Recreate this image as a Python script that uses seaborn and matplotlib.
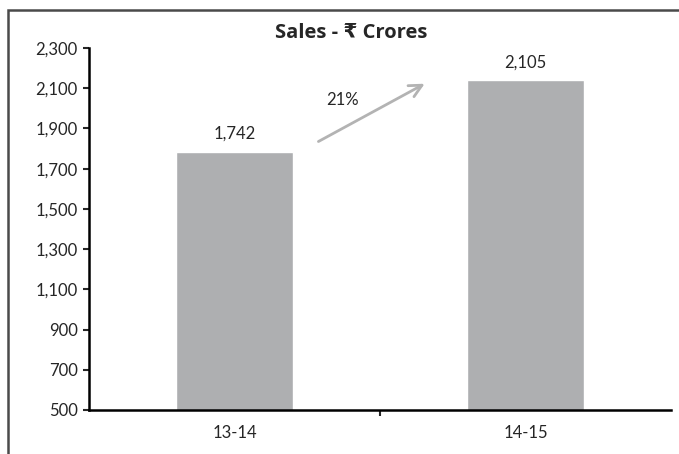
import pandas as pd
import matplotlib.pyplot as plt
import seaborn as sns
from matplotlib.patches import Rectangle
from matplotlib.ticker import FuncFormatter, FixedLocator

years = ["13-14", "14-15"]
bar_heights = [1784, 2141]          # bar tops as drawn in the picture
bar_labels = ["1,742", "2,105"]     # the labels printed above the bars
growth_label = "21%"

df = pd.DataFrame({"year": years, "sales": bar_heights})

sns.set_style("white")
plt.rcParams["font.family"] = ["Lato", "DejaVu Sans"]

fig = plt.figure(figsize=(6.79, 4.54), dpi=100)
ax = fig.add_axes([89 / 679, 44 / 454, 582 / 679, 362 / 454])

sns.barplot(data=df, x="year", y="sales", color="#AEAFB1", saturation=1,
            width=0.405, ax=ax)

ax.set_ylim(500, 2300)
ax.set_yticks(range(500, 2301, 200))
ax.yaxis.set_major_formatter(FuncFormatter(lambda v, p: f"{int(v):,}"))
ax.set_xlim(-0.5, 1.5)

ax.bar_label(ax.containers[0], labels=bar_labels, padding=7, fontsize=12)

for s in ["top", "right"]:
    ax.spines[s].set_visible(False)
for s in ["left", "bottom"]:
    ax.spines[s].set_color("black")
    ax.spines[s].set_linewidth(1.8)

ax.tick_params(axis="y", direction="out", length=4, width=1.5, labelsize=12, pad=4, left=True)
ax.tick_params(axis="x", which="major", length=0, labelsize=12, pad=11)
ax.xaxis.set_minor_locator(FixedLocator([0.5]))
ax.tick_params(axis="x", which="minor", direction="out", length=4, width=1.5, bottom=True)
ax.set_xlabel("")
ax.set_ylabel("")

# growth arrow
ax.annotate("", xy=(0.581, 0.905), xytext=(0.39, 0.738), xycoords="axes fraction",
            arrowprops=dict(arrowstyle="->,head_length=0.9,head_width=0.45",
                            color="#B3B3B3", lw=2))
ax.text(0.435, 0.856, growth_label, transform=ax.transAxes, ha="center",
        va="center", fontsize=12)

fig.text(351 / 679, 1 - 33 / 454, "Sales - ₹ Crores", ha="center", va="center",
         fontsize=14.5, fontweight="bold", family=["Open Sans", "DejaVu Sans"])

# outer frame
fig.patches.append(Rectangle((8 / 679, -0.1), 1.2, 1 - 10 / 454 + 0.1,
                             transform=fig.transFigure, fill=False,
                             edgecolor="#4a4a4a", lw=1.8, clip_on=False))

fig.savefig("out.png", dpi=100)
